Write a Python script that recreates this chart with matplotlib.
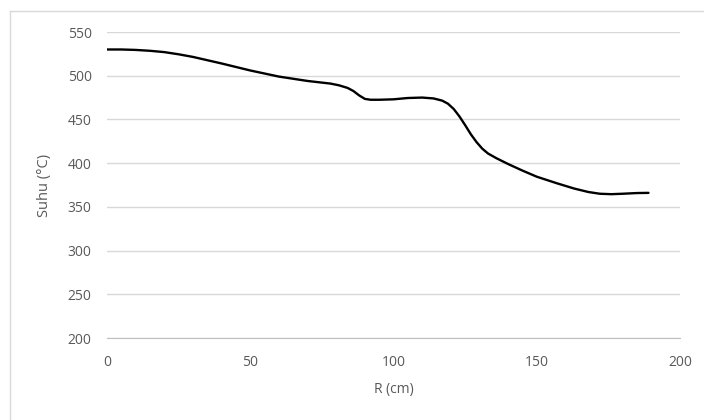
import matplotlib
matplotlib.use("Agg")
import matplotlib.pyplot as plt
from matplotlib.lines import Line2D

# jari-jari (cm) dan suhu (C)
r_cm = [0, 5, 10, 15, 20, 25, 30, 40, 50, 60, 70, 78, 81, 84, 86, 88, 90, 92,
        95, 100, 105, 110, 114, 117, 119, 121, 123, 125, 127, 129, 131, 133,
        136, 140, 145, 150, 157, 163, 168, 172, 176, 180, 185, 189]
suhu = [530, 530, 529.5, 528.5, 527, 524.5, 521.5, 514, 506, 499, 494, 491,
        489, 486, 482.5, 477.5, 473.5, 472.5, 472.5, 473, 474.5, 475, 474,
        471.5, 468, 462, 453.5, 443.5, 433, 424, 416.5, 411, 405.5, 399,
        391.5, 384.5, 377, 371, 367, 365, 364.5, 365, 365.8, 366]

x_ticks = [0, 50, 100, 150, 200]
y_ticks = [200, 250, 300, 350, 400, 450, 500, 550]

plt.rcParams['font.family'] = ['Open Sans', 'DejaVu Sans']
grey = '#595959'

fig = plt.figure(figsize=(7.04, 4.2), dpi=100)
ax = fig.add_axes([107/704, 1-338/420, (680-107)/704, (338-32)/420])

ax.plot(r_cm, suhu, color='black', lw=1.7, solid_joinstyle='round',
        solid_capstyle='round')

ax.set_xlim(0, 200)
ax.set_ylim(200, 550)
ax.set_xticks(x_ticks)
ax.set_yticks(y_ticks)
ax.tick_params(axis='x', length=0, colors=grey, labelsize=10, pad=12)
ax.tick_params(axis='y', length=0, colors=grey, labelsize=10, pad=11)
ax.grid(axis='y', color='#d9d9d9', lw=1)
ax.set_axisbelow(True)
for s in ['top', 'right', 'left']:
    ax.spines[s].set_visible(False)
ax.spines['bottom'].set_color('#bfbfbf')

ax.set_xlabel('R (cm)', color=grey, fontsize=10, labelpad=9)
ax.set_ylabel('Suhu (°C)', color=grey, fontsize=10.5, labelpad=11)

# bingkai luar area grafik
fig.add_artist(Line2D([10/704, 10/704], [0, 1-11/420], color='#d9d9d9', lw=1))
fig.add_artist(Line2D([10/704, 1], [1-11/420, 1-11/420], color='#d9d9d9', lw=1))

fig.savefig('out.png', dpi=100)
